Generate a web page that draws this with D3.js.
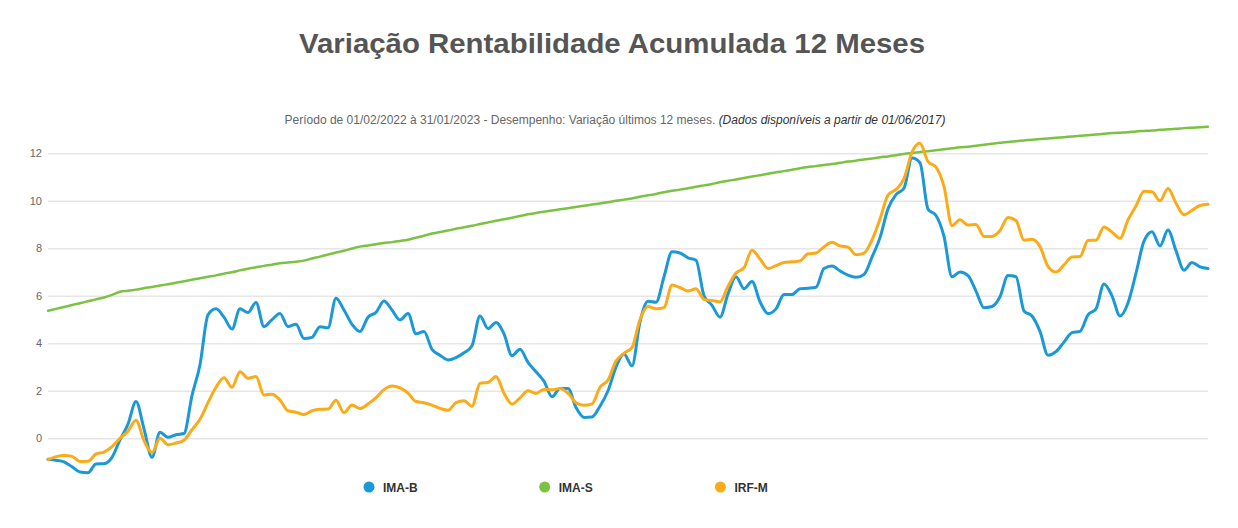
<!DOCTYPE html>
<html lang="pt-BR">
<head>
    <meta charset="UTF-8">
    <title>Variação Rentabilidade Acumulada 12 Meses</title>
    <style>
        body { margin: 0; background: #fff; }
        svg { display: block; font-family: "Liberation Sans", Arial, sans-serif; }
        .grid line { stroke: #e6e6e6; stroke-width: 1.5; }
        .grid text { fill: #666; font-size: 11px; }
        .serie { fill: none; stroke-linejoin: round; stroke-linecap: round; }
    </style>
</head>
<body>
    <svg id="grafico" width="1238" height="528"></svg>

    <script src="https://d3js.org/d3.v7.min.js"></script>
    <script>
        // Valores (% acumulada 12 meses), amostragem regular no período
        const imaB = [
            -0.88, -0.92, -0.99, -1.20, -1.42, -1.45, -1.08, -1.07, -0.80, -0.07,
            0.60, 1.55, 0.40, -0.80, 0.25, 0.04, 0.15, 0.20, 1.80, 3.10,
            5.20, 5.45, 5.10, 4.60, 5.45, 5.30, 5.72, 4.70, 5.00, 5.26,
            4.70, 4.80, 4.20, 4.25, 4.70, 4.65, 5.90, 5.40, 4.80, 4.50,
            5.10, 5.30, 5.78, 5.40, 4.98, 5.25, 4.40, 4.50, 3.74, 3.50,
            3.30, 3.40, 3.60, 3.90, 5.15, 4.62, 4.88, 4.40, 3.48, 3.75,
            3.20, 2.80, 2.40, 1.75, 2.10, 2.10, 1.30, 0.88, 0.90, 1.35,
            2.00, 3.00, 3.55, 3.05, 4.90, 5.77, 5.73, 6.80, 7.85, 7.80,
            7.60, 7.50, 6.00, 5.60, 5.10, 6.08, 6.80, 6.30, 6.60, 5.75,
            5.25, 5.45, 6.05, 6.05, 6.30, 6.32, 6.36, 7.15, 7.25, 7.05,
            6.87, 6.78, 6.90, 7.63, 8.45, 9.66, 10.26, 10.53, 11.80, 11.60,
            9.65, 9.38, 8.50, 6.80, 7.00, 6.85, 6.20, 5.50, 5.55, 5.96,
            6.85, 6.80, 5.36, 5.15, 4.50, 3.50, 3.65, 4.05, 4.45, 4.50,
            5.20, 5.45, 6.50, 6.00, 5.15, 5.70, 6.95, 8.30, 8.70, 8.10,
            8.77, 7.90, 7.08, 7.40, 7.22, 7.15
        ];
        const imaS = [
            5.37, 5.45, 5.53, 5.61, 5.69, 5.77, 5.85, 5.93, 6.04, 6.17,
            6.21, 6.26, 6.32, 6.37, 6.43, 6.49, 6.55, 6.61, 6.68, 6.74,
            6.80, 6.86, 6.93, 6.99, 7.07, 7.14, 7.20, 7.26, 7.31, 7.37,
            7.40, 7.43, 7.48, 7.57, 7.65, 7.74, 7.82, 7.90, 7.99, 8.07,
            8.12, 8.17, 8.22, 8.26, 8.31, 8.36, 8.45, 8.53, 8.62, 8.69,
            8.75, 8.82, 8.89, 8.95, 9.02, 9.09, 9.16, 9.22, 9.29, 9.36,
            9.43, 9.49, 9.54, 9.59, 9.64, 9.69, 9.74, 9.79, 9.84, 9.89,
            9.94, 10.00, 10.05, 10.10, 10.17, 10.23, 10.29, 10.36, 10.42, 10.47,
            10.53, 10.59, 10.65, 10.71, 10.78, 10.84, 10.90, 10.96, 11.02, 11.08,
            11.14, 11.20, 11.25, 11.31, 11.37, 11.42, 11.46, 11.51, 11.55, 11.60,
            11.65, 11.69, 11.74, 11.78, 11.83, 11.87, 11.92, 11.97, 12.01, 12.05,
            12.09, 12.13, 12.17, 12.21, 12.25, 12.28, 12.32, 12.36, 12.40, 12.44,
            12.48, 12.51, 12.54, 12.57, 12.60, 12.62, 12.65, 12.68, 12.71, 12.74,
            12.76, 12.79, 12.82, 12.85, 12.87, 12.89, 12.92, 12.94, 12.96, 12.99,
            13.01, 13.03, 13.06, 13.08, 13.10, 13.12
        ];
        const irfM = [
            -0.90, -0.77, -0.72, -0.76, -0.98, -0.97, -0.66, -0.58, -0.35, 0.00,
            0.30, 0.76, -0.10, -0.60, 0.00, -0.27, -0.20, -0.08, 0.36, 0.80,
            1.50, 2.15, 2.55, 2.15, 2.80, 2.53, 2.60, 1.82, 1.86, 1.61,
            1.16, 1.10, 1.00, 1.16, 1.22, 1.23, 1.60, 1.08, 1.40, 1.25,
            1.44, 1.71, 2.05, 2.20, 2.12, 1.90, 1.55, 1.50, 1.40, 1.26,
            1.18, 1.50, 1.58, 1.35, 2.32, 2.35, 2.60, 1.90, 1.44, 1.70,
            2.00, 1.89, 2.06, 2.04, 2.10, 1.90, 1.50, 1.39, 1.45, 2.15,
            2.45, 3.25, 3.58, 3.82, 5.00, 5.55, 5.45, 5.50, 6.45, 6.35,
            6.20, 6.30, 5.85, 5.80, 5.75, 6.40, 6.96, 7.18, 7.92, 7.55,
            7.15, 7.27, 7.40, 7.43, 7.47, 7.77, 7.80, 8.06, 8.25, 8.10,
            8.05, 7.73, 7.80, 8.35, 9.23, 10.24, 10.48, 10.93, 12.05, 12.42,
            11.65, 11.42, 10.60, 8.95, 9.20, 8.98, 9.00, 8.50, 8.50, 8.75,
            9.30, 9.17, 8.34, 8.38, 8.07, 7.24, 7.00, 7.30, 7.63, 7.65,
            8.33, 8.34, 8.90, 8.68, 8.42, 9.20, 9.78, 10.40, 10.38, 10.00,
            10.52, 9.90, 9.41, 9.60, 9.80, 9.85
        ];
        const yTicks = [0, 2, 4, 6, 8, 10, 12];

        const series = [
            { nome: "IMA-B", valores: imaB, cor: "#1b98d6", largura: 3 },
            { nome: "IMA-S", valores: imaS, cor: "#7cc242", largura: 2.5 },
            { nome: "IRF-M", valores: irfM, cor: "#fbab18", largura: 3 }
        ];

        const svg = d3.select("#grafico");
        const left = 48, right = 1208;

        const x = d3.scaleLinear().domain([0, imaB.length - 1]).range([left, right]);
        const y = d3.scaleLinear().domain([0, 12]).range([438.3, 153.3]);

        // Título e subtítulo
        svg.append("text")
            .attr("x", 612).attr("y", 53)
            .attr("text-anchor", "middle")
            .attr("font-size", "28px").attr("font-weight", "bold")
            .attr("fill", "#555")
            .attr("textLength", 626)
            .attr("lengthAdjust", "spacingAndGlyphs")
            .text("Variação Rentabilidade Acumulada 12 Meses");

        const sub = svg.append("text")
            .attr("x", 615).attr("y", 124)
            .attr("text-anchor", "middle")
            .attr("font-size", "12px")
            .attr("fill", "#666");
        sub.append("tspan").text("Período de 01/02/2022 à 31/01/2023 - Desempenho: Variação últimos 12 meses. ");
        sub.append("tspan").attr("font-style", "italic").attr("fill", "#333")
            .text("(Dados disponíveis a partir de 01/06/2017)");

        // Grade horizontal
        const eixoY = d3.axisLeft(y)
            .tickValues(yTicks)
            .tickSize(-(right - left))
            .tickPadding(6)
            .tickFormat(d3.format("d"));

        svg.append("g")
            .attr("class", "grid")
            .attr("transform", `translate(${left},0)`)
            .call(eixoY)
            .call(g => g.select(".domain").remove());

        // Linhas
        const linha = d3.line()
            .x((d, i) => x(i))
            .y(d => y(d))
            .curve(d3.curveMonotoneX);

        svg.selectAll(".serie")
            .data(series)
            .enter()
            .append("path")
            .attr("class", "serie")
            .attr("stroke", d => d.cor)
            .attr("stroke-width", d => d.largura)
            .attr("d", d => linha(d.valores));

        // Legenda
        const legenda = svg.append("g").attr("transform", "translate(369,487)");
        const item = legenda.selectAll(".item")
            .data(series)
            .enter()
            .append("g")
            .attr("transform", (d, i) => `translate(${i * 175.7},0)`);

        item.append("circle").attr("r", 5.5).attr("fill", d => d.cor);
        item.append("text")
            .attr("x", 14).attr("y", 4.5)
            .attr("font-size", "12px").attr("font-weight", "bold")
            .attr("fill", "#333")
            .text(d => d.nome);
    </script>
</body>
</html>
